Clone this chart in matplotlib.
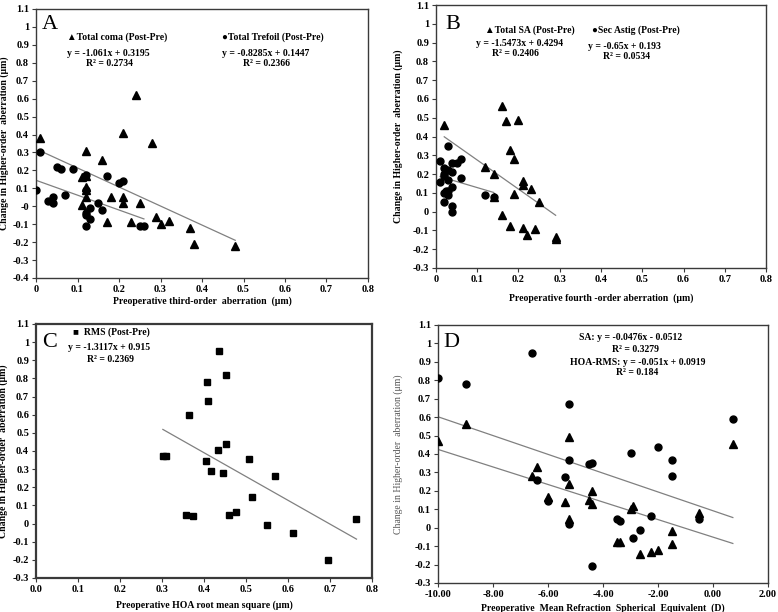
import matplotlib
matplotlib.use("Agg")
import matplotlib.pyplot as plt
import numpy as np

plt.rcParams['font.family'] = ['Liberation Serif', 'DejaVu Sans']
plt.rcParams['axes.unicode_minus'] = False

# ---- Panel A: third-order aberrations ----
coma_x = [0.01, 0.24, 0.21, 0.28, 0.12, 0.16, 0.11, 0.12, 0.12, 0.12, 0.12, 0.11,
          0.18, 0.21, 0.21, 0.25, 0.17, 0.23, 0.29, 0.30, 0.32, 0.37, 0.38, 0.48]
coma_y = [0.38, 0.62, 0.41, 0.35, 0.31, 0.26, 0.165, 0.17, 0.105, 0.09, 0.05, 0.005,
          0.05, 0.05, 0.02, 0.02, -0.09, -0.09, -0.06, -0.10, -0.08, -0.12, -0.21, -0.22]
tref_x = [0.0, 0.01, 0.05, 0.06, 0.09, 0.17, 0.20, 0.21, 0.12, 0.12, 0.03, 0.04, 0.04,
          0.07, 0.15, 0.13, 0.16, 0.12, 0.12, 0.13, 0.12, 0.25, 0.26]
tref_y = [0.09, 0.30, 0.22, 0.21, 0.21, 0.17, 0.13, 0.14, 0.175, 0.09, 0.03, 0.05, 0.02,
          0.06, 0.02, -0.01, -0.02, -0.04, -0.05, -0.07, -0.11, -0.11, -0.11]
coma_fit = (-1.061, 0.3195)
tref_fit = (-0.8285, 0.1447)

# ---- Panel B: fourth-order aberrations ----
sa_x = [0.02, 0.16, 0.17, 0.20, 0.18, 0.19, 0.12, 0.14, 0.21, 0.21, 0.23, 0.19, 0.14,
        0.25, 0.16, 0.18, 0.21, 0.24, 0.22, 0.29, 0.29]
sa_y = [0.46, 0.56, 0.48, 0.49, 0.33, 0.28, 0.24, 0.20, 0.165, 0.14, 0.12, 0.095, 0.08,
        0.05, -0.02, -0.075, -0.085, -0.095, -0.125, -0.135, -0.145]
astig_x = [0.01, 0.03, 0.01, 0.02, 0.02, 0.03, 0.04, 0.04, 0.05, 0.06, 0.06, 0.02, 0.03,
           0.04, 0.02, 0.025, 0.03, 0.03, 0.02, 0.04, 0.04, 0.12, 0.14]
astig_y = [0.27, 0.35, 0.16, 0.23, 0.20, 0.22, 0.21, 0.26, 0.26, 0.28, 0.18, 0.19, 0.17,
           0.13, 0.10, 0.11, 0.09, 0.11, 0.05, 0.03, 0.0, 0.09, 0.08]
sa_fit = (-1.5473, 0.4294)
astig_fit = (-0.65, 0.193)

# ---- Panel C: HOA RMS ----
rms_x = [0.436, 0.453, 0.408, 0.409, 0.365, 0.453, 0.433, 0.302, 0.310, 0.404, 0.507,
         0.416, 0.446, 0.570, 0.515, 0.356, 0.373, 0.460, 0.475, 0.550, 0.613, 0.696, 0.763]
rms_y = [0.953, 0.817, 0.782, 0.678, 0.599, 0.440, 0.407, 0.371, 0.371, 0.347, 0.354,
         0.288, 0.281, 0.264, 0.145, 0.049, 0.042, 0.045, 0.066, -0.008, -0.054, -0.202, 0.025]
rms_fit = (-1.3117, 0.915)

# ---- Panel D: vs spherical equivalent ----
se_hoa_x = [-6.6, -10.0, -9.0, -5.25, -5.25, -4.5, -4.4, -5.4, -6.4, -6.0, -5.25, -4.4,
            0.72, -2.0, -3.0, -1.5, -1.5, -2.25, -0.5, -3.5, -3.4, -2.65, -2.9]
se_hoa_y = [0.95, 0.81, 0.78, 0.67, 0.365, 0.345, 0.35, 0.277, 0.26, 0.143, 0.02, -0.21,
            0.59, 0.436, 0.405, 0.366, 0.283, 0.066, 0.045, 0.045, 0.038, -0.012, -0.056]
se_sa_x = [-10.0, -9.0, -5.25, -6.4, -6.6, -5.25, -4.4, -6.0, -5.4, -4.5, -4.4, -5.25,
           0.72, -2.9, -3.0, -0.5, -1.5, -1.5, -3.5, -3.4, -2.65, -2.25, -2.0]
se_sa_y = [0.47, 0.56, 0.49, 0.33, 0.28, 0.235, 0.20, 0.165, 0.14, 0.15, 0.13, 0.045,
           0.456, 0.12, 0.10, 0.08, -0.02, -0.09, -0.08, -0.075, -0.14, -0.13, -0.12]
se_sa_fit = (-0.0476, -0.0512)
se_hoa_fit = (-0.051, 0.0919)

LINE_C = '#808080'
SPINE_C = '#3a3a3a'
TXT = dict(fontsize=7, fontweight='bold')


def trend(ax, xs, fit):
    xx = np.array([min(xs), max(xs)])
    ax.plot(xx, fit[0] * xx + fit[1], color=LINE_C, lw=0.9, zorder=1)


def style(ax, xticks, yticks, xfmt, xlabel, ylabel, xlab_y, ylab_x,
          spine_w=1.0, ylab_bold=True):
    ax.set_xlim(xticks[0], xticks[-1])
    ax.set_ylim(yticks[0], yticks[-1])
    ax.set_xticks(xticks)
    ax.set_xticklabels([xfmt(v) for v in xticks])
    ax.set_yticks(yticks)
    ax.set_yticklabels([f"{round(v, 1):g}" for v in yticks])
    ax.tick_params(direction='out', length=3, width=0.8, labelsize=7.5,
                   color=SPINE_C, pad=2)
    for lab in ax.get_xticklabels() + ax.get_yticklabels():
        lab.set_fontweight('bold')
    for s in ax.spines.values():
        s.set_color(SPINE_C)
        s.set_linewidth(spine_w)
    ax.set_xlabel(xlabel, fontsize=7, fontweight='bold')
    if ylab_bold:
        ax.set_ylabel(ylabel, fontsize=7, fontweight='bold')
    else:
        ax.set_ylabel(ylabel, fontsize=7, color='#555555')
    ax.xaxis.set_label_coords(0.5, xlab_y)
    ax.yaxis.set_label_coords(ylab_x, 0.5)


fig = plt.figure(figsize=(7.78, 6.12), dpi=100)
axA = fig.add_axes([0.0463, 0.5458, 0.4267, 0.4395])
axB = fig.add_axes([0.5604, 0.5621, 0.4242, 0.4297])
axC = fig.add_axes([0.0463, 0.0556, 0.4319, 0.4150])
axD = fig.add_axes([0.5630, 0.0474, 0.4242, 0.4216])

dec_fmt = lambda v: f"{round(v, 1):g}"
ylab = 'Change in Higher-order  aberration (\u03bcm)'

# A
axA.plot(coma_x, coma_y, '^', color='black', ms=5.5, zorder=3)
axA.plot(tref_x, tref_y, 'o', color='black', ms=5, zorder=3)
trend(axA, coma_x, coma_fit)
trend(axA, tref_x, tref_fit)
style(axA, np.arange(0, 0.81, 0.1), np.arange(-0.4, 1.11, 0.1), dec_fmt,
      'Preoperative third-order  aberration  (\u03bcm)', ylab, -0.07, -0.082)
axA.text(0.018, 0.978, 'A', transform=axA.transAxes, fontsize=16, va='top')
axA.text(0.093, 0.896, '\u25b2Total coma (Post-Pre)', transform=axA.transAxes, va='center', **TXT)
axA.text(0.56, 0.896, '\u25cfTotal Trefoil (Post-Pre)', transform=axA.transAxes, va='center', **TXT)
axA.text(0.093, 0.836, 'y = -1.061x + 0.3195', transform=axA.transAxes, va='center', **TXT)
axA.text(0.15, 0.796, 'R\u00b2 = 0.2734', transform=axA.transAxes, va='center', **TXT)
axA.text(0.56, 0.836, 'y = -0.8285x + 0.1447', transform=axA.transAxes, va='center', **TXT)
axA.text(0.623, 0.796, 'R\u00b2 = 0.2366', transform=axA.transAxes, va='center', **TXT)

# B
axB.plot(sa_x, sa_y, '^', color='black', ms=5.5, zorder=3)
axB.plot(astig_x, astig_y, 'o', color='black', ms=5, zorder=3)
trend(axB, sa_x, sa_fit)
trend(axB, astig_x, astig_fit)
style(axB, np.arange(0, 0.81, 0.1), np.arange(-0.3, 1.11, 0.1), dec_fmt,
      'Preoperative fourth -order aberration  (\u03bcm)', ylab, -0.095, -0.1)
axB.text(0.027, 0.962, 'B', transform=axB.transAxes, fontsize=16, va='top')
axB.text(0.148, 0.905, '\u25b2Total SA (Post-Pre)', transform=axB.transAxes, va='center', **TXT)
axB.text(0.473, 0.905, '\u25cfSec Astig (Post-Pre)', transform=axB.transAxes, va='center', **TXT)
axB.text(0.121, 0.852, 'y = -1.5473x + 0.4294', transform=axB.transAxes, va='center', **TXT)
axB.text(0.17, 0.814, 'R\u00b2 = 0.2406', transform=axB.transAxes, va='center', **TXT)
axB.text(0.46, 0.844, 'y = -0.65x + 0.193', transform=axB.transAxes, va='center', **TXT)
axB.text(0.506, 0.806, 'R\u00b2 = 0.0534', transform=axB.transAxes, va='center', **TXT)

# C
axC.plot(rms_x, rms_y, 's', color='black', ms=5, zorder=3)
trend(axC, rms_x, rms_fit)
style(axC, np.arange(0, 0.81, 0.1), np.arange(-0.3, 1.11, 0.1), lambda v: f"{v:.1f}",
      'Preoperative HOA root mean square (\u03bcm)', ylab, -0.087, -0.082, spine_w=1.6)
axC.text(0.018, 0.965, 'C', transform=axC.transAxes, fontsize=16, va='top')
axC.text(0.11, 0.969, '\u25a0  RMS (Post-Pre)', transform=axC.transAxes, va='center', **TXT)
axC.text(0.095, 0.909, 'y = -1.3117x + 0.915', transform=axC.transAxes, va='center', **TXT)
axC.text(0.152, 0.862, 'R\u00b2 = 0.2369', transform=axC.transAxes, va='center', **TXT)

# D
axD.plot(se_sa_x, se_sa_y, '^', color='black', ms=5.5, zorder=3)
axD.plot(se_hoa_x, se_hoa_y, 'o', color='black', ms=5, zorder=3)
trend(axD, se_sa_x, se_sa_fit)
trend(axD, se_hoa_x, se_hoa_fit)
style(axD, np.arange(-10, 2.1, 2), np.arange(-0.3, 1.11, 0.1), lambda v: f"{v:.2f}",
      'Preoperative  Mean Refraction  Spherical  Equivalent  (D)', ylab, -0.078, -0.106,
      ylab_bold=False)
axD.text(0.015, 0.969, 'D', transform=axD.transAxes, fontsize=16, va='top')
axD.text(0.582, 0.953, 'SA: y = -0.0476x - 0.0512', transform=axD.transAxes, ha='center', va='center', **TXT)
axD.text(0.598, 0.903, 'R\u00b2 = 0.3279', transform=axD.transAxes, ha='center', va='center', **TXT)
axD.text(0.605, 0.853, 'HOA-RMS: y = -0.051x + 0.0919', transform=axD.transAxes, ha='center', va='center', **TXT)
axD.text(0.602, 0.814, 'R\u00b2 = 0.184', transform=axD.transAxes, ha='center', va='center', **TXT)

fig.savefig('out.png', dpi=100)
